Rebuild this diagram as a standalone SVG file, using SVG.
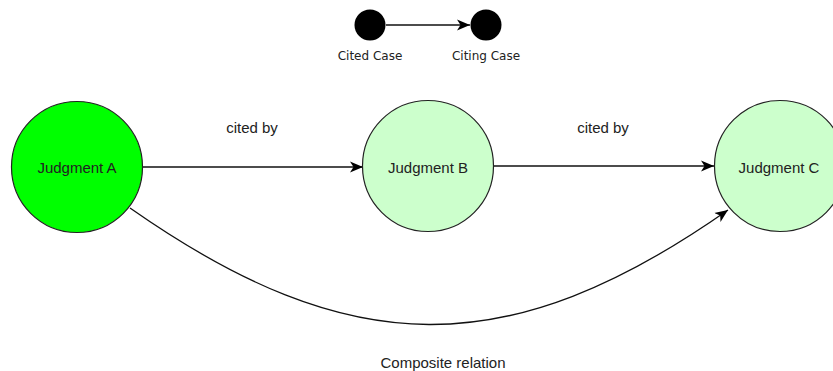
<svg xmlns="http://www.w3.org/2000/svg" width="833" height="371" viewBox="0 0 833 371">
<defs>
<marker id="arr" markerUnits="userSpaceOnUse" markerWidth="14" markerHeight="12" viewBox="0 0 14 12" refX="13" refY="6" orient="auto">
<path d="M0,0.5 L13,6 L0,11.5 L3.5,6 Z" fill="#000"/>
</marker>
</defs>
<style>
.node{stroke:#222;stroke-width:1.2}
.lbl{font-family:"Liberation Sans",Arial,sans-serif;font-size:15px;fill:#222;text-anchor:middle}
.leg{font-family:"DejaVu Sans",sans-serif;font-size:12px;fill:#222;text-anchor:middle}
.conn{fill:none;stroke:#111;stroke-width:1.3}
</style>
<rect width="833" height="371" fill="#fff"/>
<g id="legend">
<circle cx="370" cy="25" r="15.5" fill="#000"/>
<circle cx="486" cy="25" r="15.5" fill="#000"/>
<line class="conn" x1="386" y1="25" x2="470" y2="25" marker-end="url(#arr)"/>
<text class="leg" x="370" y="60">Cited Case</text>
<text class="leg" x="486" y="60">Citing Case</text>
</g>
<g id="connectors">
<line class="conn" x1="143" y1="167" x2="363" y2="167" marker-end="url(#arr)"/>
<line class="conn" x1="493" y1="166" x2="714" y2="166" marker-end="url(#arr)"/>
<path class="conn" d="M130,208 C350,362 508,364 728,210" marker-end="url(#arr)"/>
<text class="lbl" x="252" y="133">cited by</text>
<text class="lbl" x="603" y="133">cited by</text>
<text class="lbl" x="443" y="368">Composite relation</text>
</g>
<g id="judgment-a">
<circle class="node" cx="77" cy="167" r="65.5" fill="#00ff00"/>
<text class="lbl" x="77" y="173">Judgment A</text>
</g>
<g id="judgment-b">
<circle class="node" cx="428" cy="166" r="65.5" fill="#ccffcc"/>
<text class="lbl" x="428" y="173">Judgment B</text>
</g>
<g id="judgment-c">
<circle class="node" cx="780" cy="166" r="65.5" fill="#ccffcc"/>
<text class="lbl" x="779" y="173">Judgment C</text>
</g>
</svg>
